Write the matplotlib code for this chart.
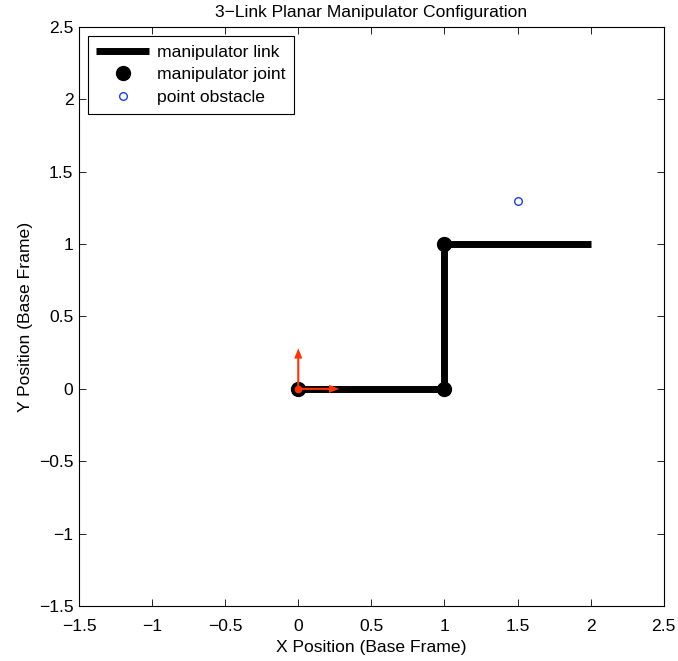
import numpy as np
import matplotlib
matplotlib.use('Agg')
import matplotlib.pyplot as plt

plt.rcParams['font.family'] = ['Liberation Sans', 'DejaVu Sans']
plt.rcParams['font.size'] = 12.6

# joint positions of the 3-link arm (base frame)
link_x = [0, 1, 1, 2]
link_y = [0, 0, 1, 1]
joint_x = [0, 1, 1]
joint_y = [0, 0, 1]
obstacle = (1.5, 1.3)
# base frame axes drawn at the origin
frame_origin = (0, 0)
frame_len = 0.28

ticks = [-1.5, -1, -0.5, 0, 0.5, 1, 1.5, 2, 2.5]
tick_labels = ['\u22121.5', '\u22121', '\u22120.5', '0', '0.5', '1', '1.5', '2', '2.5']

fig = plt.figure(figsize=(6.78, 6.61), dpi=100)
ax = fig.add_axes([0.1165, 0.0832, 0.8625, 0.876])

ax.plot(link_x, link_y, color='k', lw=5, solid_capstyle='butt', label='manipulator link', zorder=2)
ax.plot(joint_x, joint_y, 'o', color='k', ms=10, ls='none', label='manipulator joint', zorder=3)
ax.plot(obstacle[0], obstacle[1], 'o', mfc='none', mec='#1a3cff', ms=5.5, mew=1, ls='none',
        label='point obstacle', zorder=3)

red = '#ff3300'
ax.quiver([frame_origin[0]] * 2, [frame_origin[1]] * 2, [frame_len, 0], [0, frame_len],
          angles='xy', scale_units='xy', scale=1, color=red, width=0.0035,
          headwidth=4, headlength=5, headaxislength=5, zorder=4)
ax.plot(frame_origin[0], frame_origin[1], 'o', color=red, ms=4.5, zorder=5)

ax.set_xlim(-1.5, 2.5)
ax.set_ylim(-1.5, 2.5)
ax.set_xticks(ticks)
ax.set_xticklabels(tick_labels)
ax.set_yticks(ticks)
ax.set_yticklabels(tick_labels)
ax.tick_params(direction='in', top=True, right=True, length=5, width=0.6)
ax.tick_params(axis='x', pad=9)
ax.tick_params(axis='y', pad=4)
for s in ax.spines.values():
    s.set_linewidth(0.8)

ax.set_title('3\u2212Link Planar Manipulator Configuration', fontsize=12.6, pad=7)
ax.set_xlabel('X Position (Base Frame)', labelpad=5)
ax.set_ylabel('Y Position (Base Frame)', labelpad=4)

leg = ax.legend(loc='upper left', fancybox=False, edgecolor='k', framealpha=1,
                borderaxespad=0.5, handlelength=3.0, handletextpad=0.45,
                labelspacing=0.42, borderpad=0.5)
leg.get_frame().set_linewidth(0.8)

fig.savefig('out.png', dpi=100)
